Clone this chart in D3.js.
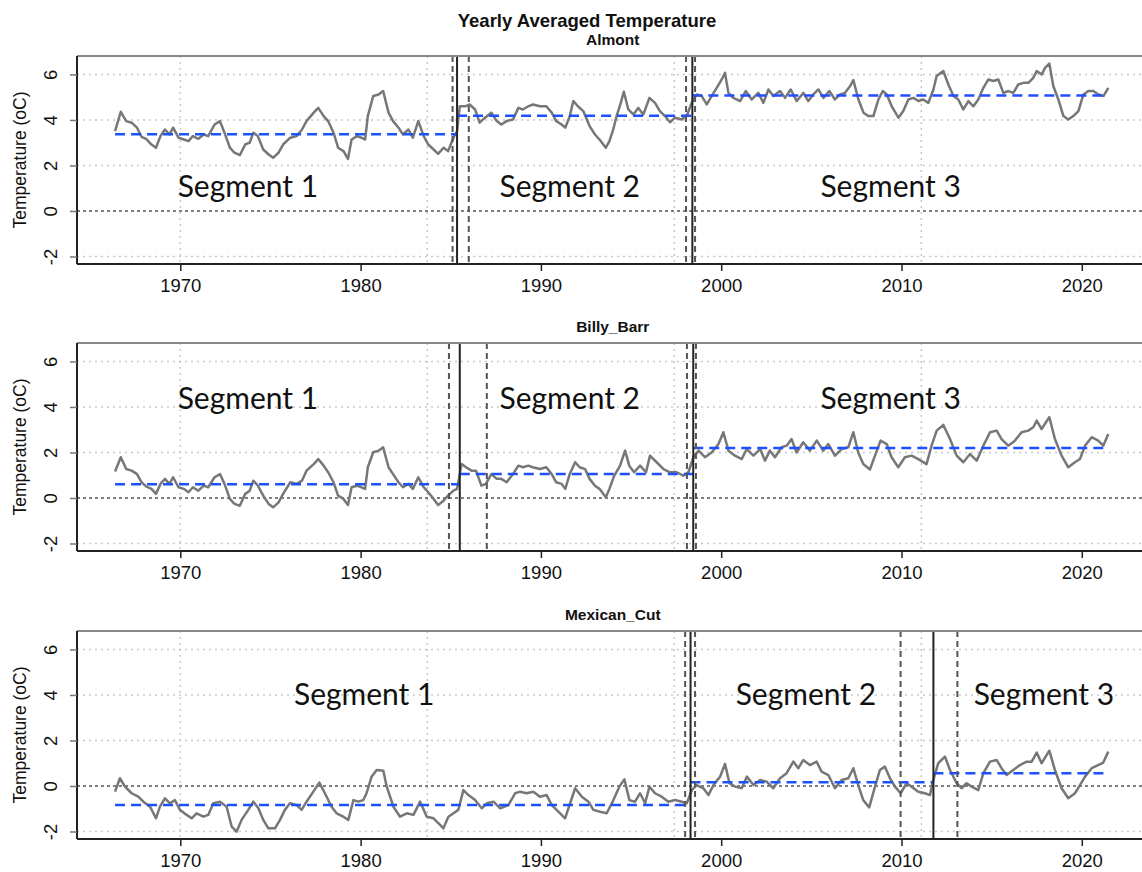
<!DOCTYPE html>
<html>
<head>
<meta charset="utf-8">
<script src="https://cdn.jsdelivr.net/npm/d3@7"></script>
<style>
    body { margin: 0; background: #fff; }
    svg { display: block; }
</style>
</head>
<body>
<div id="chart"></div>
<script>
// --- Data ---
const xTickYears = [1970, 1980, 1990, 2000, 2010, 2020];
const yTickValues = [-2, 0, 2, 4, 6];
const xGridYears = [1970, 1983.7, 1997.4, 2011.1];
const yGridValues = [-2, 2, 4, 6];

const almont = [
    [1966.38, 3.51], [1966.7, 4.36], [1967.0, 3.95], [1967.3, 3.88], [1967.6, 3.66], [1967.85, 3.26],
    [1968.1, 3.17], [1968.4, 2.92], [1968.65, 2.78], [1968.9, 3.29], [1969.15, 3.58], [1969.4, 3.36],
    [1969.6, 3.66], [1969.9, 3.22], [1970.2, 3.14], [1970.45, 3.07], [1970.7, 3.29], [1971.0, 3.17],
    [1971.3, 3.36], [1971.55, 3.29], [1971.9, 3.8], [1972.2, 3.95], [1972.45, 3.44], [1972.75, 2.78],
    [1973.0, 2.56], [1973.3, 2.45], [1973.6, 2.92], [1973.85, 3.0], [1974.05, 3.44], [1974.3, 3.29],
    [1974.6, 2.7], [1974.9, 2.48], [1975.15, 2.34], [1975.45, 2.56], [1975.7, 2.92], [1976.1, 3.22],
    [1976.45, 3.29], [1976.75, 3.58], [1977.0, 3.95], [1977.4, 4.32], [1977.65, 4.53], [1977.95, 4.17],
    [1978.2, 3.95], [1978.5, 3.44], [1978.75, 2.78], [1979.05, 2.63], [1979.3, 2.29], [1979.5, 3.14],
    [1979.8, 3.29], [1980.05, 3.22], [1980.25, 3.14], [1980.4, 4.17], [1980.7, 5.05], [1981.0, 5.12],
    [1981.25, 5.27], [1981.55, 4.32], [1981.8, 3.95], [1982.1, 3.66], [1982.35, 3.36], [1982.65, 3.58],
    [1982.9, 3.22], [1983.2, 3.95], [1983.5, 3.29], [1983.75, 2.92], [1984.05, 2.7], [1984.3, 2.51],
    [1984.6, 2.78], [1984.85, 2.63], [1985.15, 3.22], [1985.35, 3.51], [1985.5, 4.6], [1985.8, 4.6],
    [1986.05, 4.68], [1986.35, 4.46], [1986.6, 3.88], [1986.9, 4.1], [1987.25, 4.32], [1987.55, 3.95],
    [1987.8, 3.8], [1988.1, 3.95], [1988.45, 4.02], [1988.75, 4.53], [1989.0, 4.46], [1989.3, 4.6],
    [1989.55, 4.68], [1989.95, 4.6], [1990.3, 4.6], [1990.6, 4.32], [1990.85, 3.95], [1991.15, 3.8],
    [1991.35, 3.66], [1991.6, 4.17], [1991.8, 4.83], [1992.05, 4.6], [1992.35, 4.39], [1992.7, 3.73],
    [1993.0, 3.36], [1993.25, 3.14], [1993.6, 2.78], [1993.8, 3.07], [1994.0, 3.55], [1994.2, 4.17],
    [1994.43, 4.75], [1994.6, 5.24], [1994.85, 4.46], [1995.13, 4.24], [1995.4, 4.53], [1995.68, 4.24],
    [1996.02, 4.97], [1996.33, 4.75], [1996.6, 4.39], [1996.88, 4.17], [1997.16, 3.9], [1997.44, 4.1],
    [1997.81, 4.02], [1998.12, 4.24], [1998.36, 4.75], [1998.64, 5.12], [1998.92, 5.05], [1999.2, 4.68],
    [1999.47, 5.05], [1999.75, 5.41], [2000.03, 5.78], [2000.21, 6.07], [2000.4, 5.19], [2000.67, 4.97],
    [2001.05, 4.83], [2001.36, 5.27], [2001.69, 4.9], [2002.06, 5.19], [2002.34, 4.75], [2002.62, 5.34],
    [2002.89, 5.05], [2003.26, 5.27], [2003.54, 4.97], [2003.85, 5.34], [2004.19, 4.83], [2004.56, 5.19],
    [2004.83, 4.83], [2005.11, 5.12], [2005.39, 5.34], [2005.67, 4.97], [2006.0, 5.27], [2006.31, 4.9],
    [2006.59, 5.12], [2006.87, 5.19], [2007.15, 5.49], [2007.33, 5.75], [2007.61, 4.9], [2007.89, 4.32],
    [2008.16, 4.17], [2008.44, 4.17], [2008.72, 4.9], [2008.96, 5.27], [2009.18, 5.12], [2009.46, 4.6],
    [2009.83, 4.1], [2010.1, 4.39], [2010.38, 4.9], [2010.66, 4.97], [2010.94, 4.83], [2011.21, 4.9],
    [2011.49, 4.75], [2011.77, 5.34], [2011.95, 5.93], [2012.32, 6.15], [2012.6, 5.56], [2012.88, 5.05],
    [2013.15, 4.9], [2013.43, 4.46], [2013.71, 4.83], [2013.99, 4.6], [2014.26, 4.9], [2014.54, 5.41],
    [2014.82, 5.78], [2015.1, 5.71], [2015.37, 5.78], [2015.65, 5.19], [2015.93, 5.27], [2016.2, 5.19],
    [2016.48, 5.56], [2016.76, 5.63], [2017.04, 5.63], [2017.31, 5.85], [2017.5, 6.15], [2017.78, 6.0],
    [2017.96, 6.29], [2018.2, 6.48], [2018.42, 5.49], [2018.7, 4.9], [2018.98, 4.17], [2019.25, 4.02],
    [2019.53, 4.17], [2019.81, 4.39], [2020.09, 5.12], [2020.36, 5.27], [2020.64, 5.27], [2020.92, 5.12],
    [2021.2, 5.05], [2021.47, 5.41]
];

const billyBarr = [
    [1966.38, 1.16], [1966.7, 1.79], [1967.0, 1.27], [1967.3, 1.2], [1967.6, 1.05], [1967.85, 0.69],
    [1968.1, 0.51], [1968.4, 0.4], [1968.65, 0.18], [1968.9, 0.62], [1969.15, 0.84], [1969.4, 0.62],
    [1969.6, 0.91], [1969.9, 0.47], [1970.2, 0.4], [1970.45, 0.25], [1970.7, 0.47], [1971.0, 0.32],
    [1971.3, 0.54], [1971.55, 0.47], [1971.9, 0.91], [1972.2, 1.05], [1972.45, 0.62], [1972.75, -0.04],
    [1973.0, -0.26], [1973.3, -0.34], [1973.6, 0.18], [1973.85, 0.32], [1974.05, 0.76], [1974.3, 0.54],
    [1974.6, 0.1], [1974.9, -0.26], [1975.15, -0.41], [1975.45, -0.19], [1975.7, 0.18], [1976.1, 0.69],
    [1976.45, 0.62], [1976.75, 0.76], [1977.0, 1.2], [1977.4, 1.49], [1977.65, 1.71], [1977.95, 1.42],
    [1978.2, 1.13], [1978.5, 0.69], [1978.75, 0.1], [1979.05, -0.04], [1979.3, -0.31], [1979.5, 0.47],
    [1979.8, 0.54], [1980.05, 0.47], [1980.25, 0.4], [1980.4, 1.35], [1980.7, 2.01], [1981.0, 2.08],
    [1981.25, 2.23], [1981.55, 1.35], [1981.8, 1.05], [1982.1, 0.69], [1982.35, 0.47], [1982.65, 0.62],
    [1982.9, 0.4], [1983.2, 0.91], [1983.5, 0.47], [1983.75, 0.25], [1984.05, -0.04], [1984.3, -0.31],
    [1984.6, -0.12], [1984.85, 0.1], [1985.15, 0.32], [1985.35, 0.4], [1985.6, 1.49], [1985.85, 1.35],
    [1986.15, 1.2], [1986.4, 1.2], [1986.7, 0.54], [1986.95, 0.62], [1987.25, 1.05], [1987.55, 0.84],
    [1987.8, 0.84], [1988.1, 0.69], [1988.45, 1.05], [1988.75, 1.42], [1989.0, 1.35], [1989.3, 1.42],
    [1989.55, 1.35], [1989.95, 1.27], [1990.3, 1.35], [1990.6, 1.05], [1990.85, 0.69], [1991.15, 0.62],
    [1991.35, 0.4], [1991.6, 1.05], [1991.9, 1.57], [1992.15, 1.35], [1992.45, 1.27], [1992.7, 0.84],
    [1993.0, 0.54], [1993.25, 0.4], [1993.6, 0.03], [1993.8, 0.4], [1994.05, 0.95], [1994.39, 1.42],
    [1994.67, 2.08], [1994.9, 1.42], [1995.17, 1.13], [1995.5, 1.42], [1995.83, 1.13], [1996.05, 1.86],
    [1996.42, 1.57], [1996.8, 1.27], [1997.16, 1.13], [1997.53, 1.13], [1997.9, 0.98], [1998.18, 1.13],
    [1998.46, 1.79], [1998.74, 2.08], [1999.1, 1.79], [1999.47, 2.0], [1999.85, 2.37], [2000.12, 2.89],
    [2000.4, 2.08], [2000.77, 1.86], [2001.14, 1.71], [2001.42, 2.15], [2001.79, 1.86], [2002.16, 2.15],
    [2002.43, 1.64], [2002.7, 2.08], [2002.98, 1.79], [2003.35, 2.23], [2003.63, 2.3], [2003.9, 2.59],
    [2004.18, 2.0], [2004.55, 2.45], [2004.92, 2.08], [2005.3, 2.52], [2005.66, 2.08], [2005.94, 2.37],
    [2006.31, 1.86], [2006.68, 2.15], [2007.05, 2.23], [2007.33, 2.89], [2007.6, 2.0], [2007.88, 1.49],
    [2008.25, 1.25], [2008.53, 1.86], [2008.84, 2.52], [2009.18, 2.37], [2009.45, 1.79], [2009.82, 1.35],
    [2010.19, 1.79], [2010.56, 1.86], [2010.93, 1.71], [2011.39, 1.49], [2011.67, 2.3], [2011.95, 2.96],
    [2012.32, 3.21], [2012.69, 2.59], [2013.06, 1.86], [2013.43, 1.57], [2013.8, 1.93], [2014.17, 1.64],
    [2014.54, 2.3], [2014.91, 2.89], [2015.28, 2.96], [2015.55, 2.59], [2015.92, 2.3], [2016.29, 2.52],
    [2016.66, 2.89], [2017.03, 2.96], [2017.31, 3.11], [2017.5, 3.4], [2017.77, 3.03], [2018.2, 3.55],
    [2018.51, 2.59], [2018.88, 1.86], [2019.25, 1.35], [2019.62, 1.57], [2019.9, 1.71], [2020.18, 2.3],
    [2020.55, 2.67], [2020.91, 2.52], [2021.19, 2.3], [2021.47, 2.81]
];

const mexicanCut = [
    [1966.38, -0.25], [1966.65, 0.34], [1966.93, -0.03], [1967.3, -0.32], [1967.67, -0.47], [1967.95, -0.69],
    [1968.32, -0.91], [1968.65, -1.42], [1968.87, -0.91], [1969.15, -0.54], [1969.43, -0.76], [1969.7, -0.62],
    [1969.98, -1.05], [1970.35, -1.27], [1970.63, -1.42], [1970.9, -1.2], [1971.28, -1.35], [1971.55, -1.27],
    [1971.83, -0.76], [1972.2, -0.69], [1972.57, -0.91], [1972.85, -1.79], [1973.12, -2.01], [1973.4, -1.49],
    [1973.77, -1.05], [1974.05, -0.69], [1974.33, -0.98], [1974.6, -1.49], [1974.88, -1.86], [1975.25, -1.86],
    [1975.53, -1.49], [1975.8, -1.05], [1976.08, -0.76], [1976.45, -0.84], [1976.73, -1.05], [1977.0, -0.69],
    [1977.38, -0.25], [1977.71, 0.15], [1978.02, -0.32], [1978.39, -0.91], [1978.67, -1.2], [1979.04, -1.35],
    [1979.32, -1.49], [1979.6, -0.62], [1979.87, -0.69], [1980.15, -0.62], [1980.33, -0.32], [1980.61, 0.41],
    [1980.89, 0.7], [1981.26, 0.67], [1981.45, -0.03], [1981.82, -0.91], [1982.19, -1.35], [1982.56, -1.2],
    [1982.93, -1.27], [1983.3, -0.69], [1983.67, -1.35], [1984.04, -1.42], [1984.41, -1.71], [1984.59, -1.86],
    [1984.87, -1.35], [1985.15, -1.2], [1985.42, -1.05], [1985.7, -0.18], [1985.98, -0.4], [1986.35, -0.62],
    [1986.72, -0.98], [1987.0, -0.76], [1987.37, -0.69], [1987.74, -0.98], [1988.2, -0.84], [1988.57, -0.32],
    [1988.85, -0.25], [1989.21, -0.32], [1989.58, -0.25], [1989.95, -0.47], [1990.32, -0.4], [1990.6, -0.84],
    [1990.97, -1.13], [1991.34, -1.42], [1991.62, -0.76], [1991.9, -0.1], [1992.27, -0.47], [1992.64, -0.69],
    [1992.91, -1.05], [1993.28, -1.13], [1993.65, -1.2], [1994.02, -0.62], [1994.35, -0.03], [1994.63, 0.29],
    [1994.91, -0.62], [1995.22, -0.69], [1995.5, -0.32], [1995.78, -0.76], [1996.02, -0.03], [1996.33, -0.32],
    [1996.7, -0.47], [1997.07, -0.69], [1997.44, -0.62], [1997.81, -0.69], [1998.09, -0.76], [1998.37, -0.18],
    [1998.64, 0.04], [1999.01, -0.1], [1999.29, -0.4], [1999.57, 0.04], [1999.94, 0.41], [2000.21, 0.97],
    [2000.46, 0.12], [2000.77, -0.03], [2001.14, -0.1], [2001.42, 0.41], [2001.79, 0.04], [2002.16, 0.26],
    [2002.52, 0.19], [2002.89, -0.1], [2003.26, 0.34], [2003.63, 0.56], [2004.0, 1.07], [2004.28, 0.78],
    [2004.55, 1.14], [2004.92, 0.92], [2005.29, 1.07], [2005.57, 0.63], [2005.94, 0.48], [2006.31, -0.1],
    [2006.68, 0.26], [2007.05, 0.34], [2007.33, 0.78], [2007.6, 0.04], [2007.88, -0.62], [2008.21, -0.94],
    [2008.53, -0.03], [2008.8, 0.7], [2009.08, 0.85], [2009.36, 0.34], [2009.64, -0.03], [2009.95, -0.32],
    [2010.28, 0.12], [2010.56, -0.03], [2010.93, -0.25], [2011.3, -0.32], [2011.58, -0.4], [2011.76, 0.26],
    [2012.04, 1.0], [2012.41, 1.29], [2012.69, 0.7], [2013.06, 0.12], [2013.33, -0.1], [2013.61, 0.12],
    [2013.89, -0.03], [2014.26, -0.18], [2014.54, 0.56], [2014.91, 1.07], [2015.28, 1.14], [2015.55, 0.78],
    [2015.83, 0.48], [2016.2, 0.7], [2016.57, 0.92], [2016.94, 1.07], [2017.22, 1.07], [2017.5, 1.47],
    [2017.77, 1.0], [2018.2, 1.55], [2018.51, 0.7], [2018.88, -0.1], [2019.25, -0.54], [2019.62, -0.32],
    [2019.9, 0.04], [2020.18, 0.41], [2020.55, 0.78], [2020.91, 0.92], [2021.19, 1.03], [2021.47, 1.51]
];

// breakpoints (solid), confidence bounds (dashed), segment means (blue)
const almontBreaks = [1985.35, 1998.4];
const almontBounds = [1985.1, 1986.0, 1998.05, 1998.55];
const almontMeans = [3.37, 4.18, 5.07];
const billyBarrBreaks = [1985.5, 1998.45];
const billyBarrBounds = [1984.9, 1987.0, 1998.1, 1998.6];
const billyBarrMeans = [0.6, 1.05, 2.2];
const mexicanCutBreaks = [1998.3, 2011.77];
const mexicanCutBounds = [1998.0, 1998.55, 2009.95, 2013.1];
const mexicanCutMeans = [-0.84, 0.16, 0.56];

const segmentNames = ['Segment 1', 'Segment 2', 'Segment 3'];
const almontLabelYears = [1973.75, 1991.6, 2009.4];
const billyBarrLabelYears = [1973.75, 1991.6, 2009.4];
const mexicanCutLabelYears = [1980.2, 2004.7, 2017.9];
const labelLevels = [1.14, 4.44, 4.09];

const panels = [
    { name: 'Almont', series: almont, breaks: almontBreaks, bounds: almontBounds, means: almontMeans, labelYears: almontLabelYears },
    { name: 'Billy_Barr', series: billyBarr, breaks: billyBarrBreaks, bounds: billyBarrBounds, means: billyBarrMeans, labelYears: billyBarrLabelYears },
    { name: 'Mexican_Cut', series: mexicanCut, breaks: mexicanCutBreaks, bounds: mexicanCutBounds, means: mexicanCutMeans, labelYears: mexicanCutLabelYears }
];

// --- Layout ---
const width = 1142, height = 872;
const left = 77, right = 1148.5;
const panelTops = [56, 343, 631];
const plotH = 208;
const sansFont = '"Liberation Sans", Arial, sans-serif';

const svg = d3.select('#chart')
    .append('svg')
    .attr('width', width)
    .attr('height', height)
    .style('font-family', sansFont);

const x = d3.scaleLinear()
    .domain([1964.27, 2023.7])
    .range([left, right]);

svg.append('text')
    .attr('x', 587)
    .attr('y', 27)
    .attr('text-anchor', 'middle')
    .attr('font-size', 18.5)
    .attr('font-weight', 'bold')
    .attr('fill', '#111')
    .text('Yearly Averaged Temperature');

panels.forEach((p, i) => {
    const top = panelTops[i];
    const bottom = top + plotH;
    const y = d3.scaleLinear().domain([-2.33, 6.81]).range([bottom, top]);
    const g = svg.append('g');

    // subtitle
    g.append('text')
        .attr('x', (left + right) / 2)
        .attr('y', top - 11)
        .attr('text-anchor', 'middle')
        .attr('font-size', 15.5)
        .attr('font-weight', 'bold')
        .attr('fill', '#111')
        .text(p.name);

    // grid
    g.selectAll('.hgrid').data(yGridValues).enter().append('line')
        .attr('x1', left).attr('x2', width)
        .attr('y1', d => y(d)).attr('y2', d => y(d))
        .attr('stroke', '#c8c8c8').attr('stroke-width', 1.5)
        .attr('stroke-dasharray', '2,4');
    g.selectAll('.vgrid').data(xGridYears).enter().append('line')
        .attr('x1', d => x(d)).attr('x2', d => x(d))
        .attr('y1', top).attr('y2', bottom)
        .attr('stroke', '#c8c8c8').attr('stroke-width', 1.5)
        .attr('stroke-dasharray', '2,4');

    // zero line
    g.append('line')
        .attr('x1', left).attr('x2', width)
        .attr('y1', y(0)).attr('y2', y(0))
        .attr('stroke', '#555').attr('stroke-width', 1.5)
        .attr('stroke-dasharray', '3,3');

    // segment labels
    g.selectAll('.seglabel').data(p.labelYears).enter().append('text')
        .attr('x', d => x(d))
        .attr('y', y(labelLevels[i]))
        .attr('text-anchor', 'middle')
        .attr('dominant-baseline', 'central')
        .attr('font-family', 'Lato, "Open Sans", sans-serif')
        .attr('font-size', 30)
        .attr('fill', '#111')
        .text((d, k) => segmentNames[k]);

    // data line
    g.append('path')
        .datum(p.series)
        .attr('fill', 'none')
        .attr('stroke', '#777')
        .attr('stroke-width', 2.5)
        .attr('stroke-linejoin', 'round')
        .attr('d', d3.line().x(d => x(d[0])).y(d => y(d[1])));

    // segment means
    const start = p.series[0][0];
    const end = p.series[p.series.length - 1][0];
    const edges = [start, ...p.breaks, end];
    g.selectAll('.mean').data(p.means).enter().append('line')
        .attr('x1', (d, k) => x(edges[k])).attr('x2', (d, k) => x(edges[k + 1]))
        .attr('y1', d => y(d)).attr('y2', d => y(d))
        .attr('stroke', '#1f4fff').attr('stroke-width', 2.5)
        .attr('stroke-dasharray', '10,6');

    // confidence bounds and breakpoints
    g.selectAll('.bound').data(p.bounds).enter().append('line')
        .attr('x1', d => x(d)).attr('x2', d => x(d))
        .attr('y1', top).attr('y2', bottom)
        .attr('stroke', '#555').attr('stroke-width', 2)
        .attr('stroke-dasharray', '6,4');
    g.selectAll('.brk').data(p.breaks).enter().append('line')
        .attr('x1', d => x(d)).attr('x2', d => x(d))
        .attr('y1', top).attr('y2', bottom)
        .attr('stroke', '#222').attr('stroke-width', 2);

    // frame
    g.append('line')
        .attr('x1', left).attr('x2', width)
        .attr('y1', top).attr('y2', top)
        .attr('stroke', '#888').attr('stroke-width', 2);

    // axes
    const xAxis = g.append('g')
        .attr('transform', `translate(0,${bottom})`)
        .call(d3.axisBottom(x).tickValues(xTickYears).tickFormat(d => String(d)).tickSize(7).tickPadding(8));
    xAxis.select('.domain').attr('stroke', '#222').attr('stroke-width', 2)
        .attr('d', `M${left},0H${width}`);
    xAxis.selectAll('.tick line').attr('stroke', '#222').attr('stroke-width', 1.5);
    xAxis.selectAll('.tick text')
        .attr('font-size', 18.5)
        .attr('font-family', sansFont)
        .attr('fill', '#111');

    const yAxis = g.append('g')
        .attr('transform', `translate(${left},0)`)
        .call(d3.axisLeft(y).tickValues(yTickValues).tickFormat(d => String(d)).tickSize(7));
    yAxis.select('.domain').attr('stroke', '#222').attr('stroke-width', 2)
        .attr('d', `M0,${top}V${bottom}`);
    yAxis.selectAll('.tick line').attr('stroke', '#777').attr('stroke-width', 1.5);
    yAxis.selectAll('.tick text')
        .attr('x', null).attr('dy', null)
        .attr('font-size', 18.5)
        .attr('font-family', sansFont)
        .attr('fill', '#111')
        .attr('text-anchor', 'middle')
        .attr('dominant-baseline', 'central')
        .attr('transform', 'translate(-27,0) rotate(-90)');

    // y title
    g.append('text')
        .attr('transform', `translate(20,${(top + bottom) / 2}) rotate(-90)`)
        .attr('text-anchor', 'middle')
        .attr('dominant-baseline', 'central')
        .attr('font-size', 17.5)
        .attr('fill', '#111')
        .text('Temperature (oC)');
});
</script>
</body>
</html>
